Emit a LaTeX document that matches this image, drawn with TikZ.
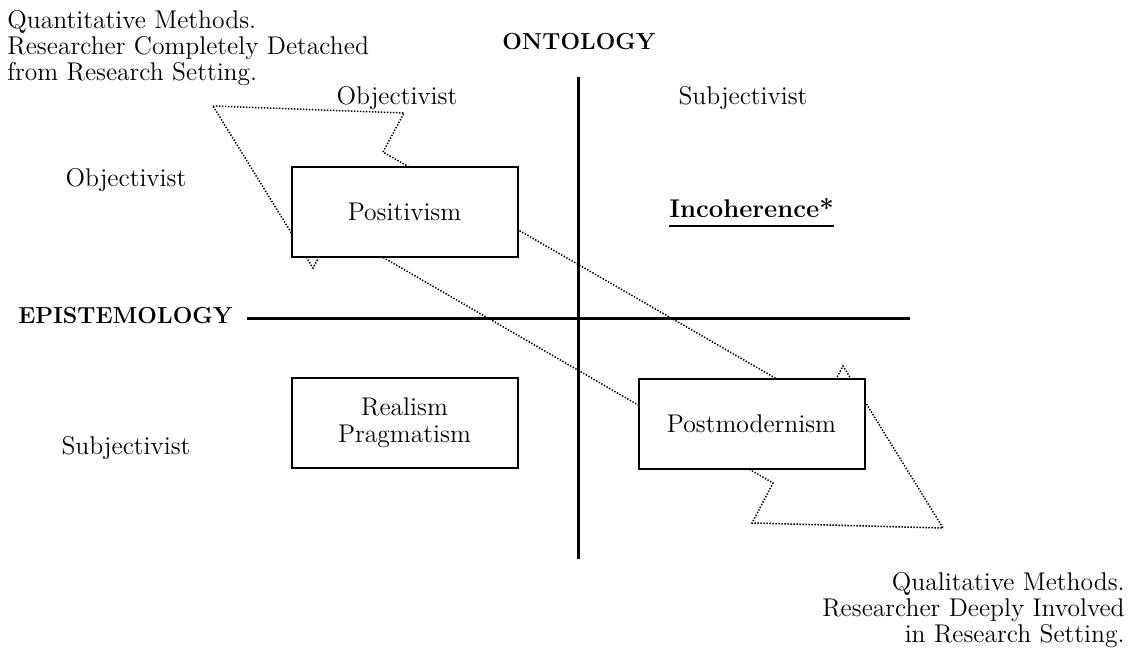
\documentclass[tikz,border=0pt]{standalone}
\begin{document}
\begin{tikzpicture}[x=0.5pt,y=-0.5pt,
  txt/.style={font=\fontsize{12.8}{13}\selectfont, inner sep=0pt},
  hd/.style={font=\fontsize{11.6}{13}\selectfont\bfseries, inner sep=0pt},
  parabox/.style={draw, fill=white, line width=1pt, minimum width=113pt,
    minimum height=45pt, inner sep=0pt, align=center,
    font=\fontsize{12.8}{13.5}\selectfont},
  axis/.style={line width=1.5pt},
  flow/.style={line width=0.75pt, dash pattern=on 0.7pt off 0.8pt, line join=miter}]
\useasboundingbox (0,0) rectangle (1139,648);

% double-headed flow arrow between the two research extremes
\coordinate (t1) at (213,106);
\coordinate (w1a) at (404,113);
\coordinate (n1a) at (383,152);
\coordinate (n2a) at (822,405);
\coordinate (w2a) at (843,366);
\coordinate (t2) at (943,528);
\coordinate (w2b) at (752,523);
\coordinate (n2b) at (773,483);
\coordinate (n1b) at (334,229);
\coordinate (w1b) at (313,268);
\draw[flow] (t1) -- (w1a) -- (n1a) -- (n2a) -- (w2a) -- (t2) -- (w2b) -- (n2b)
  -- (n1b) -- (w1b) -- cycle;

% axes
\coordinate (vtop) at (578,77);
\coordinate (vbot) at (578,559);
\coordinate (hl) at (247,318);
\coordinate (hr) at (910,318);
\draw[axis] (vtop) -- (vbot);
\draw[axis] (hl) -- (hr);

% axis titles and quadrant labels
\node[hd] (onto) at (579,42) {ONTOLOGY};
\node[hd, anchor=east] (epi) at (233,316) {EPISTEMOLOGY};
\node[txt] (objT) at (397,98) {Objectivist};
\node[txt] (subT) at (743,98) {Subjectivist};
\node[txt] (objL) at (126,180) {Objectivist};
\node[txt] (subL) at (126,448) {Subjectivist};

% paradigms
\node[parabox] (pos) at (404.5,212) {Positivism};
\node[parabox] (real) at (404.5,423) {Realism\\Pragmatism};
\node[parabox] (post) at (751.5,423.5) {Postmodernism};

\node[font=\fontsize{12.8}{13}\selectfont\bfseries, inner sep=0pt, anchor=base]
  (inc) at (751.5,217) {Incoherence*};
\draw[line width=1.3pt] ([yshift=-4.5pt]inc.base west) -- ([yshift=-4.5pt]inc.base east);

% method notes at the two ends of the arrow
\node[txt, align=left, anchor=north west] (quant) at (7,10)
  {Quantitative Methods.\\Researcher Completely Detached\\from Research Setting.};
\node[txt, align=right, anchor=north east] (qual) at (1125,572)
  {Qualitative Methods.\\Researcher Deeply Involved\\in Research Setting.};
\end{tikzpicture}
\end{document}
